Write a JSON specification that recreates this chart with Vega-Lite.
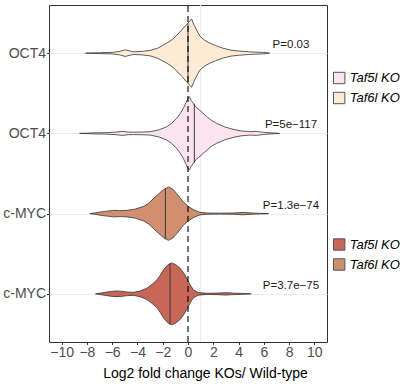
{
  "$schema": "https://vega.github.io/schema/vega-lite/v6.json",
  "width": 278,
  "height": 337,
  "autosize": {"type": "none"},
  "padding": {"left": 49, "top": 5, "right": 75, "bottom": 45},
  "config": {
    "font": "Liberation Sans",
    "view": {"stroke": "#333333", "strokeWidth": 1},
    "axis": {"labelFont": "Liberation Sans", "titleFont": "Liberation Sans", "labelOverlap": false, "labelFlush": false}
  },
  "datasets": {
    "oct4": [
      {"ko": "Taf6l KO", "x": -8.1, "lo": 4, "hi": 4},
      {"ko": "Taf6l KO", "x": -7.0, "lo": 3.994, "hi": 4.006},
      {"ko": "Taf6l KO", "x": -6.0, "lo": 3.991, "hi": 4.009},
      {"ko": "Taf6l KO", "x": -5.4, "lo": 3.978, "hi": 4.022},
      {"ko": "Taf6l KO", "x": -4.96, "lo": 3.959, "hi": 4.041},
      {"ko": "Taf6l KO", "x": -4.55, "lo": 3.975, "hi": 4.025},
      {"ko": "Taf6l KO", "x": -4.3, "lo": 3.984, "hi": 4.016},
      {"ko": "Taf6l KO", "x": -3.6, "lo": 3.978, "hi": 4.022},
      {"ko": "Taf6l KO", "x": -3.0, "lo": 3.966, "hi": 4.034},
      {"ko": "Taf6l KO", "x": -2.4, "lo": 3.938, "hi": 4.062},
      {"ko": "Taf6l KO", "x": -1.68, "lo": 3.875, "hi": 4.125},
      {"ko": "Taf6l KO", "x": -1.2, "lo": 3.826, "hi": 4.174},
      {"ko": "Taf6l KO", "x": -0.89, "lo": 3.776, "hi": 4.224},
      {"ko": "Taf6l KO", "x": -0.5, "lo": 3.713, "hi": 4.287},
      {"ko": "Taf6l KO", "x": -0.24, "lo": 3.664, "hi": 4.336},
      {"ko": "Taf6l KO", "x": 0.0, "lo": 3.626, "hi": 4.374},
      {"ko": "Taf6l KO", "x": 0.15, "lo": 3.595, "hi": 4.405},
      {"ko": "Taf6l KO", "x": 0.29, "lo": 3.576, "hi": 4.424},
      {"ko": "Taf6l KO", "x": 0.45, "lo": 3.639, "hi": 4.361},
      {"ko": "Taf6l KO", "x": 0.68, "lo": 3.713, "hi": 4.287},
      {"ko": "Taf6l KO", "x": 0.94, "lo": 3.788, "hi": 4.212},
      {"ko": "Taf6l KO", "x": 1.3, "lo": 3.838, "hi": 4.162},
      {"ko": "Taf6l KO", "x": 1.73, "lo": 3.875, "hi": 4.125},
      {"ko": "Taf6l KO", "x": 2.2, "lo": 3.907, "hi": 4.093},
      {"ko": "Taf6l KO", "x": 2.76, "lo": 3.938, "hi": 4.062},
      {"ko": "Taf6l KO", "x": 3.4, "lo": 3.963, "hi": 4.037},
      {"ko": "Taf6l KO", "x": 4.1, "lo": 3.975, "hi": 4.025},
      {"ko": "Taf6l KO", "x": 4.8, "lo": 3.983, "hi": 4.017},
      {"ko": "Taf6l KO", "x": 5.4, "lo": 3.988, "hi": 4.012},
      {"ko": "Taf6l KO", "x": 6.0, "lo": 3.991, "hi": 4.009},
      {"ko": "Taf6l KO", "x": 6.46, "lo": 4, "hi": 4},
      {"ko": "Taf5l KO", "x": -8.58, "lo": 3, "hi": 3},
      {"ko": "Taf5l KO", "x": -7.5, "lo": 2.994, "hi": 3.006},
      {"ko": "Taf5l KO", "x": -6.5, "lo": 2.991, "hi": 3.009},
      {"ko": "Taf5l KO", "x": -5.7, "lo": 2.984, "hi": 3.016},
      {"ko": "Taf5l KO", "x": -5.2, "lo": 2.975, "hi": 3.025},
      {"ko": "Taf5l KO", "x": -4.7, "lo": 2.984, "hi": 3.016},
      {"ko": "Taf5l KO", "x": -4.3, "lo": 2.985, "hi": 3.015},
      {"ko": "Taf5l KO", "x": -3.6, "lo": 2.983, "hi": 3.017},
      {"ko": "Taf5l KO", "x": -3.0, "lo": 2.979, "hi": 3.021},
      {"ko": "Taf5l KO", "x": -2.3, "lo": 2.956, "hi": 3.044},
      {"ko": "Taf5l KO", "x": -1.68, "lo": 2.917, "hi": 3.083},
      {"ko": "Taf5l KO", "x": -1.3, "lo": 2.875, "hi": 3.125},
      {"ko": "Taf5l KO", "x": -0.9, "lo": 2.813, "hi": 3.187},
      {"ko": "Taf5l KO", "x": -0.6, "lo": 2.751, "hi": 3.249},
      {"ko": "Taf5l KO", "x": -0.37, "lo": 2.688, "hi": 3.312},
      {"ko": "Taf5l KO", "x": -0.15, "lo": 2.614, "hi": 3.386},
      {"ko": "Taf5l KO", "x": 0.03, "lo": 2.551, "hi": 3.449},
      {"ko": "Taf5l KO", "x": 0.12, "lo": 2.545, "hi": 3.455},
      {"ko": "Taf5l KO", "x": 0.25, "lo": 2.589, "hi": 3.411},
      {"ko": "Taf5l KO", "x": 0.42, "lo": 2.626, "hi": 3.374},
      {"ko": "Taf5l KO", "x": 0.65, "lo": 2.676, "hi": 3.324},
      {"ko": "Taf5l KO", "x": 0.94, "lo": 2.713, "hi": 3.287},
      {"ko": "Taf5l KO", "x": 1.2, "lo": 2.751, "hi": 3.249},
      {"ko": "Taf5l KO", "x": 1.47, "lo": 2.788, "hi": 3.212},
      {"ko": "Taf5l KO", "x": 1.85, "lo": 2.838, "hi": 3.162},
      {"ko": "Taf5l KO", "x": 2.26, "lo": 2.875, "hi": 3.125},
      {"ko": "Taf5l KO", "x": 2.9, "lo": 2.919, "hi": 3.081},
      {"ko": "Taf5l KO", "x": 3.57, "lo": 2.95, "hi": 3.05},
      {"ko": "Taf5l KO", "x": 4.2, "lo": 2.969, "hi": 3.031},
      {"ko": "Taf5l KO", "x": 4.9, "lo": 2.979, "hi": 3.021},
      {"ko": "Taf5l KO", "x": 5.4, "lo": 2.975, "hi": 3.025},
      {"ko": "Taf5l KO", "x": 5.9, "lo": 2.985, "hi": 3.015},
      {"ko": "Taf5l KO", "x": 6.5, "lo": 2.993, "hi": 3.007},
      {"ko": "Taf5l KO", "x": 7.24, "lo": 3, "hi": 3}
    ],
    "myc": [
      {"ko": "Taf6l KO", "x": -7.77, "lo": 2, "hi": 2},
      {"ko": "Taf6l KO", "x": -7.3, "lo": 1.99, "hi": 2.01},
      {"ko": "Taf6l KO", "x": -6.93, "lo": 1.979, "hi": 2.021},
      {"ko": "Taf6l KO", "x": -6.4, "lo": 1.969, "hi": 2.031},
      {"ko": "Taf6l KO", "x": -5.9, "lo": 1.959, "hi": 2.041},
      {"ko": "Taf6l KO", "x": -5.4, "lo": 1.963, "hi": 2.037},
      {"ko": "Taf6l KO", "x": -4.83, "lo": 1.959, "hi": 2.041},
      {"ko": "Taf6l KO", "x": -4.2, "lo": 1.944, "hi": 2.056},
      {"ko": "Taf6l KO", "x": -3.5, "lo": 1.909, "hi": 2.091},
      {"ko": "Taf6l KO", "x": -3.1, "lo": 1.869, "hi": 2.131},
      {"ko": "Taf6l KO", "x": -2.73, "lo": 1.813, "hi": 2.187},
      {"ko": "Taf6l KO", "x": -2.3, "lo": 1.751, "hi": 2.249},
      {"ko": "Taf6l KO", "x": -1.94, "lo": 1.701, "hi": 2.299},
      {"ko": "Taf6l KO", "x": -1.55, "lo": 1.667, "hi": 2.333},
      {"ko": "Taf6l KO", "x": -1.2, "lo": 1.695, "hi": 2.305},
      {"ko": "Taf6l KO", "x": -0.89, "lo": 1.751, "hi": 2.249},
      {"ko": "Taf6l KO", "x": -0.6, "lo": 1.807, "hi": 2.193},
      {"ko": "Taf6l KO", "x": -0.37, "lo": 1.854, "hi": 2.146},
      {"ko": "Taf6l KO", "x": 0.0, "lo": 1.907, "hi": 2.093},
      {"ko": "Taf6l KO", "x": 0.42, "lo": 1.95, "hi": 2.05},
      {"ko": "Taf6l KO", "x": 0.94, "lo": 1.984, "hi": 2.016},
      {"ko": "Taf6l KO", "x": 1.5, "lo": 1.993, "hi": 2.007},
      {"ko": "Taf6l KO", "x": 2.5, "lo": 1.994, "hi": 2.006},
      {"ko": "Taf6l KO", "x": 3.5, "lo": 1.993, "hi": 2.007},
      {"ko": "Taf6l KO", "x": 4.36, "lo": 1.985, "hi": 2.015},
      {"ko": "Taf6l KO", "x": 5.2, "lo": 1.994, "hi": 2.006},
      {"ko": "Taf6l KO", "x": 6.38, "lo": 2, "hi": 2},
      {"ko": "Taf5l KO", "x": -7.32, "lo": 1, "hi": 1},
      {"ko": "Taf5l KO", "x": -6.9, "lo": 0.99, "hi": 1.01},
      {"ko": "Taf5l KO", "x": -6.5, "lo": 0.98, "hi": 1.02},
      {"ko": "Taf5l KO", "x": -6.14, "lo": 0.971, "hi": 1.029},
      {"ko": "Taf5l KO", "x": -5.7, "lo": 0.965, "hi": 1.035},
      {"ko": "Taf5l KO", "x": -5.35, "lo": 0.966, "hi": 1.034},
      {"ko": "Taf5l KO", "x": -4.8, "lo": 0.978, "hi": 1.022},
      {"ko": "Taf5l KO", "x": -4.3, "lo": 0.981, "hi": 1.019},
      {"ko": "Taf5l KO", "x": -3.8, "lo": 0.965, "hi": 1.035},
      {"ko": "Taf5l KO", "x": -3.25, "lo": 0.929, "hi": 1.071},
      {"ko": "Taf5l KO", "x": -2.85, "lo": 0.882, "hi": 1.118},
      {"ko": "Taf5l KO", "x": -2.46, "lo": 0.826, "hi": 1.174},
      {"ko": "Taf5l KO", "x": -2.2, "lo": 0.769, "hi": 1.231},
      {"ko": "Taf5l KO", "x": -1.94, "lo": 0.701, "hi": 1.299},
      {"ko": "Taf5l KO", "x": -1.6, "lo": 0.639, "hi": 1.361},
      {"ko": "Taf5l KO", "x": -1.28, "lo": 0.614, "hi": 1.386},
      {"ko": "Taf5l KO", "x": -0.95, "lo": 0.639, "hi": 1.361},
      {"ko": "Taf5l KO", "x": -0.63, "lo": 0.68, "hi": 1.32},
      {"ko": "Taf5l KO", "x": -0.35, "lo": 0.738, "hi": 1.262},
      {"ko": "Taf5l KO", "x": -0.1, "lo": 0.804, "hi": 1.196},
      {"ko": "Taf5l KO", "x": 0.15, "lo": 0.882, "hi": 1.118},
      {"ko": "Taf5l KO", "x": 0.42, "lo": 0.95, "hi": 1.05},
      {"ko": "Taf5l KO", "x": 0.81, "lo": 0.984, "hi": 1.016},
      {"ko": "Taf5l KO", "x": 1.5, "lo": 0.993, "hi": 1.007},
      {"ko": "Taf5l KO", "x": 2.4, "lo": 0.99, "hi": 1.01},
      {"ko": "Taf5l KO", "x": 3.0, "lo": 0.985, "hi": 1.015},
      {"ko": "Taf5l KO", "x": 3.6, "lo": 0.991, "hi": 1.009},
      {"ko": "Taf5l KO", "x": 4.3, "lo": 0.994, "hi": 1.006},
      {"ko": "Taf5l KO", "x": 5.0, "lo": 1, "hi": 1}
    ],
    "medians": [
      {"x": 0.0, "lo": 3.626, "hi": 4.374},
      {"x": 0.5, "lo": 2.63, "hi": 3.37},
      {"x": -1.79, "lo": 1.682, "hi": 2.318},
      {"x": -1.42, "lo": 0.614, "hi": 1.386}
    ],
    "pvals": [
      {"x": 8.15, "lo": 4, "label": "P=0.03"},
      {"x": 8.15, "lo": 3, "label": "P=5e−117"},
      {"x": 8.15, "lo": 2, "label": "P=1.3e−74"},
      {"x": 8.15, "lo": 1, "label": "P=3.7e−75"}
    ],
    "refs": [{"x": 1, "lo": 0.4, "hi": 4.6}],
    "zero": [{"x": 0, "lo": 0.4, "hi": 4.6}]
  },
  "encoding": {
    "x": {
      "field": "x", "type": "quantitative",
      "scale": {"domain": [-11, 11], "nice": false, "zero": false},
      "axis": {
        "title": "Log2 fold change KOs/ Wild-type",
        "values": [-10, -8, -6, -4, -2, 0, 2, 4, 6, 8, 10],
        "grid": false, "domain": false,
        "labelOverlap": false, "labelFlush": false,
        "tickColor": "#333333", "tickSize": 2.5,
        "labelFontSize": 14, "labelColor": "#4D4D4D", "labelPadding": 0.5,
        "titleFontSize": 14, "titleFontWeight": "normal", "titleColor": "#000000",
        "titleX": 156, "titleY": 35, "titleBaseline": "alphabetic", "titleAnchor": "middle", "titleAlign": "center"
      }
    },
    "y": {
      "field": "lo", "type": "quantitative", "stack": null,
      "scale": {"domain": [0.4, 4.6], "nice": false, "zero": false},
      "axis": {
        "title": null,
        "values": [1, 2, 3, 4],
        "labelExpr": "datum.value >= 3 ? 'OCT4' : 'c-MYC'",
        "labelOverlap": false, "labelFlush": false,
        "grid": true, "gridColor": "#EBEBEB", "gridWidth": 1,
        "domain": false,
        "tickColor": "#333333", "tickSize": 2.5,
        "labelFontSize": 14, "labelColor": "#4D4D4D", "labelPadding": 1
      }
    }
  },
  "layer": [
    {
      "data": {"name": "refs"},
      "mark": {"type": "rule", "color": "#EBEBEB", "strokeWidth": 1},
      "encoding": {"y2": {"field": "hi"}}
    },
    {
      "data": {"name": "oct4"},
      "mark": {"type": "area", "orient": "vertical", "stroke": "#333333", "strokeWidth": 0.8},
      "encoding": {
        "y2": {"field": "hi"},
        "fill": {
          "field": "ko", "type": "nominal",
          "scale": {"domain": ["Taf5l KO", "Taf6l KO"], "range": ["#FCE4EF", "#FEEBD5"]},
          "legend": {
            "title": null, "orient": "none", "legendX": 283.7, "legendY": 66.5,
            "padding": 0, "symbolType": "square", "symbolSize": 130,
            "symbolStrokeColor": "#555555", "symbolStrokeWidth": 1, "symbolOpacity": 1,
            "labelFont": "Liberation Sans", "labelFontSize": 13, "labelFontStyle": "italic",
            "labelColor": "#000000", "labelOffset": 4, "rowPadding": 3
          }
        }
      }
    },
    {
      "data": {"name": "myc"},
      "mark": {"type": "area", "orient": "vertical", "stroke": "#333333", "strokeWidth": 0.8},
      "encoding": {
        "y2": {"field": "hi"},
        "fill": {
          "field": "ko", "type": "nominal",
          "scale": {"domain": ["Taf5l KO", "Taf6l KO"], "range": ["#C86658", "#D09070"]},
          "legend": {
            "title": null, "orient": "none", "legendX": 283.7, "legendY": 233,
            "padding": 0, "symbolType": "square", "symbolSize": 130,
            "symbolStrokeColor": "#555555", "symbolStrokeWidth": 1, "symbolOpacity": 1,
            "labelFont": "Liberation Sans", "labelFontSize": 13, "labelFontStyle": "italic",
            "labelColor": "#000000", "labelOffset": 4, "rowPadding": 3
          }
        }
      }
    },
    {
      "data": {"name": "medians"},
      "mark": {"type": "rule", "color": "#3A3A3A", "strokeWidth": 1},
      "encoding": {"y2": {"field": "hi"}}
    },
    {
      "data": {"name": "zero"},
      "mark": {"type": "rule", "color": "#000000", "strokeWidth": 1.1, "strokeDash": [6, 4]},
      "encoding": {"y2": {"field": "hi"}}
    },
    {
      "data": {"name": "pvals"},
      "mark": {"type": "text", "font": "Liberation Sans", "fontSize": 11.5, "color": "#1A1A1A", "align": "center", "baseline": "alphabetic", "dy": -5},
      "encoding": {"text": {"field": "label"}}
    }
  ],
  "resolve": {"scale": {"fill": "independent"}}
}
